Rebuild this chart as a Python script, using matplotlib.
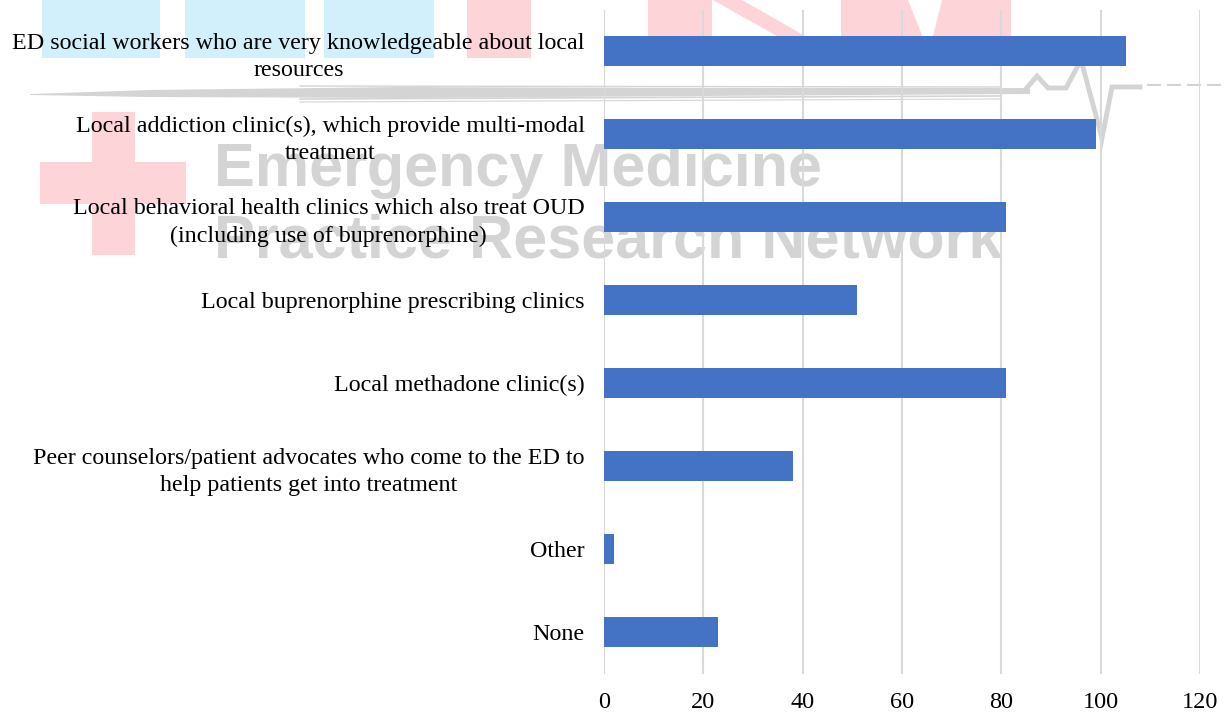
# -*- coding: utf-8 -*-
"""
Horizontal bar chart of ED treatment referral resources, drawn over the
EMPRN logo watermark.
"""

import matplotlib.pyplot as plt
from matplotlib.patches import Polygon, Rectangle

# ---DATA---
categories = [
    'ED social workers who are very knowledgeable about local\nresources',
    'Local addiction clinic(s), which provide multi-modal\ntreatment',
    'Local behavioral health clinics which also treat OUD\n(including use of buprenorphine)',
    'Local buprenorphine prescribing clinics',
    'Local methadone clinic(s)',
    'Peer counselors/patient advocates who come to the ED to\nhelp patients get into treatment',
    'Other',
    'None',
]
counts = [105, 99, 81, 51, 81, 38, 2, 23]
x_ticks = [0, 20, 40, 60, 80, 100, 120]

# ---STYLE---
BAR_COLOR = '#4472C4'
GRID_COLOR = '#d9d9d9'
MARK_GRAY = '#d4d4d4'
LIGHT_BLUE = '#d2f0fb'
LIGHT_RED = '#fdd5d8'
W, H = 1224, 715


def draw_logo(bg):
    """ Faded logo behind the chart, in pixel coordinates. """
    # "EM" letter blocks
    for x0, x1 in [(42, 160), (185, 305), (324, 434)]:
        bg.add_patch(Rectangle((x0, 0), x1 - x0, 58, color=LIGHT_BLUE, lw=0))
    # "PRN" letter blocks
    for x0, x1 in [(467, 531), (648, 712), (841, 1011)]:
        bg.add_patch(Rectangle((x0, 0), x1 - x0, 58, color=LIGHT_RED, lw=0))
    bg.add_patch(Polygon([(713, 0), (742, 0), (812, 40), (784, 40)],
                         color=LIGHT_RED, lw=0))
    bg.add_patch(Polygon([(908, 0), (942, 0), (932, 40), (924, 40)],
                         color='white', lw=0))
    # red cross
    bg.add_patch(Rectangle((92, 112), 43, 143, color=LIGHT_RED, lw=0))
    bg.add_patch(Rectangle((40, 162), 146, 42, color=LIGHT_RED, lw=0))

    # brush stroke and heartbeat line
    bg.add_patch(Polygon([(30, 94), (150, 90), (400, 87), (700, 88), (1030, 88),
                          (1030, 94), (700, 96), (400, 98), (150, 97), (30, 95)],
                         color=MARK_GRAY, lw=0))
    for y0, y1, lw in [(86, 87, 1.0), (99, 96, 1.2), (102, 99, 0.8)]:
        bg.plot([300, 1000], [y0, y1], color=MARK_GRAY, lw=lw)
    bg.plot([1025, 1037, 1048, 1066, 1081, 1102, 1112, 1140],
            [90, 76, 88, 88, 60, 138, 87, 87], color=MARK_GRAY, lw=3.5,
            solid_joinstyle='miter')
    for x0 in [1148, 1168, 1188, 1208]:
        bg.plot([x0, x0 + 12], [85, 85], color=MARK_GRAY, lw=1.5)

    # network name
    bg.text(214, 186, 'Emergency Medicine', fontsize=44, color=MARK_GRAY,
            family='Liberation Sans', weight='bold', va='baseline')
    bg.text(214, 257, 'Practice Research Network', fontsize=44, color=MARK_GRAY,
            family='Liberation Sans', weight='bold', va='baseline')


def main():
    plt.rcParams['font.family'] = ['Liberation Serif', 'DejaVu Serif']
    fig = plt.figure(figsize=(W / 100, H / 100), dpi=100)

    bg = fig.add_axes([0, 0, 1, 1], zorder=0)
    bg.set_xlim(0, W)
    bg.set_ylim(H, 0)
    bg.axis('off')
    draw_logo(bg)

    ax = fig.add_axes([604 / W, 1 - 673.5 / H, 596 / W, 664 / H], zorder=1)
    ax.set_facecolor('none')
    pos = list(range(len(categories)))
    ax.barh(pos, counts, height=0.35, color=BAR_COLOR, zorder=3)
    ax.set_ylim(len(categories) - 0.5, -0.5)
    ax.set_xlim(0, 120)
    ax.set_yticks(pos, labels=categories, multialignment='center',
                  fontsize=17.3, linespacing=1.42)
    ax.set_xticks(x_ticks)
    ax.tick_params(axis='x', labelsize=17.5, length=0, pad=13)
    ax.tick_params(axis='y', length=0, pad=14)
    ax.grid(axis='x', color=GRID_COLOR, lw=1.5, zorder=0)
    for side in ax.spines.values():
        side.set_visible(False)

    fig.savefig('out.png', dpi=100)


if __name__ == '__main__':
    main()
